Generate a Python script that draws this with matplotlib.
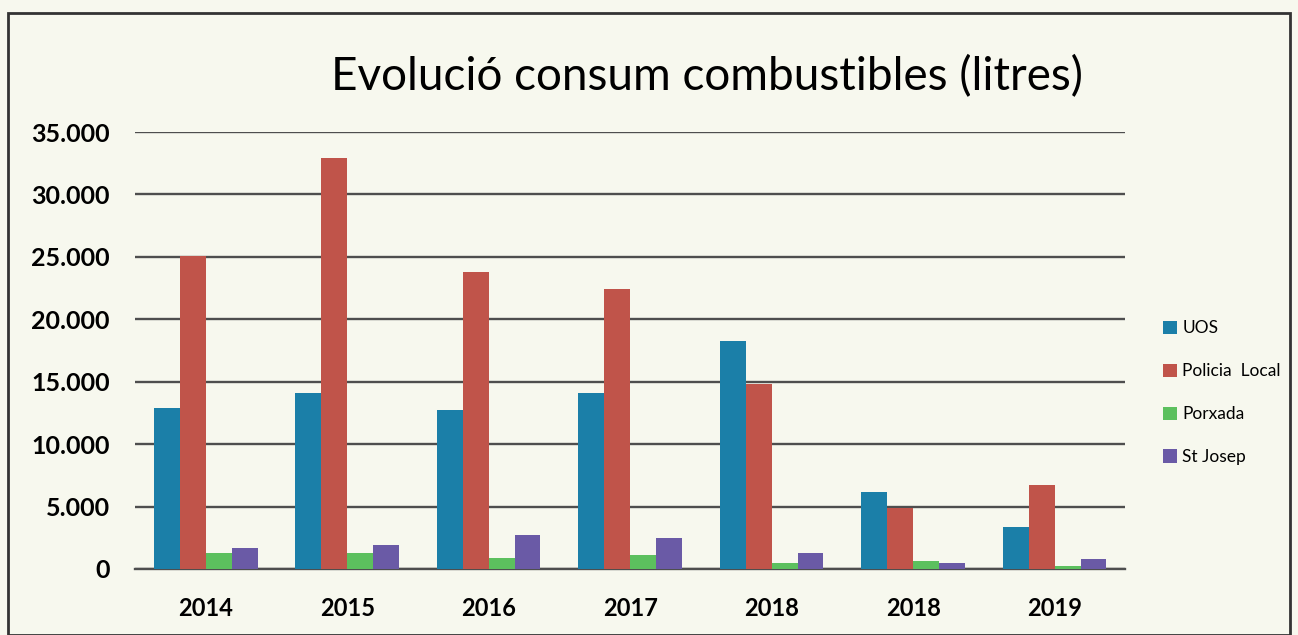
import matplotlib.pyplot as plt
from matplotlib.patches import Rectangle
from matplotlib.ticker import FuncFormatter
import numpy as np

plt.rcParams['font.family'] = ['Lato', 'DejaVu Sans']

# data
years = ["2014", "2015", "2016", "2017", "2018", "2018", "2019"]
uos = [12900, 14100, 12700, 14100, 18300, 6200, 3400]
policia = [25100, 32900, 23800, 22400, 14800, 4900, 6700]
porxada = [1300, 1250, 900, 1100, 450, 650, 250]
st_josep = [1700, 1950, 2700, 2450, 1300, 450, 800]

series = [("UOS", uos, "#1b7fa8"),
          ("Policia  Local", policia, "#c0544a"),
          ("Porxada", porxada, "#5cc05e"),
          ("St Josep", st_josep, "#6a5aa6")]

bg = "#f7f8ee"
fig = plt.figure(figsize=(12.98, 6.35), dpi=100, facecolor=bg)
ax = fig.add_axes([0.104, 0.104, 0.763, 0.688], facecolor=bg)

x = np.arange(len(years))
w = 0.183
for i, (name, vals, col) in enumerate(series):
    ax.bar(x + (i - 1.5) * w, vals, width=w, color=col, label=name, zorder=3)

ax.set_ylim(0, 35000)
ax.set_xlim(-0.5, len(years) - 0.5)
ax.set_yticks(range(0, 35001, 5000))
ax.yaxis.set_major_formatter(FuncFormatter(lambda v, p: f"{int(v):,}".replace(",", ".")))
ax.grid(axis="y", color="#4e4e4e", linewidth=1.7, zorder=0)
ax.set_xticks(x)
ax.set_xticklabels(years, fontsize=17, fontweight="bold")
for lbl in ax.get_yticklabels():
    lbl.set_fontweight("bold")
ax.tick_params(axis="y", labelsize=18, length=0, pad=18)
ax.tick_params(axis="x", length=0, pad=20)
for s in ["top", "right", "left"]:
    ax.spines[s].set_visible(False)
ax.spines["bottom"].set_color("#4e4e4e")
ax.spines["bottom"].set_linewidth(1.7)

fig.text(0.545, 0.88, "Evolució consum combustibles (litres)", ha="center",
         va="center", fontsize=33)

fig.legend(loc="upper left", bbox_to_anchor=(0.884, 0.52), frameon=False,
           fontsize=12.5, handlelength=0.8, handleheight=0.8, handletextpad=0.3,
           labelspacing=1.55)

fig.patches.append(Rectangle((0.006, 0.0), 0.988, 0.98, transform=fig.transFigure,
                             fill=False, edgecolor="#333333", linewidth=2))

fig.savefig("out.png", dpi=100, facecolor=bg)
